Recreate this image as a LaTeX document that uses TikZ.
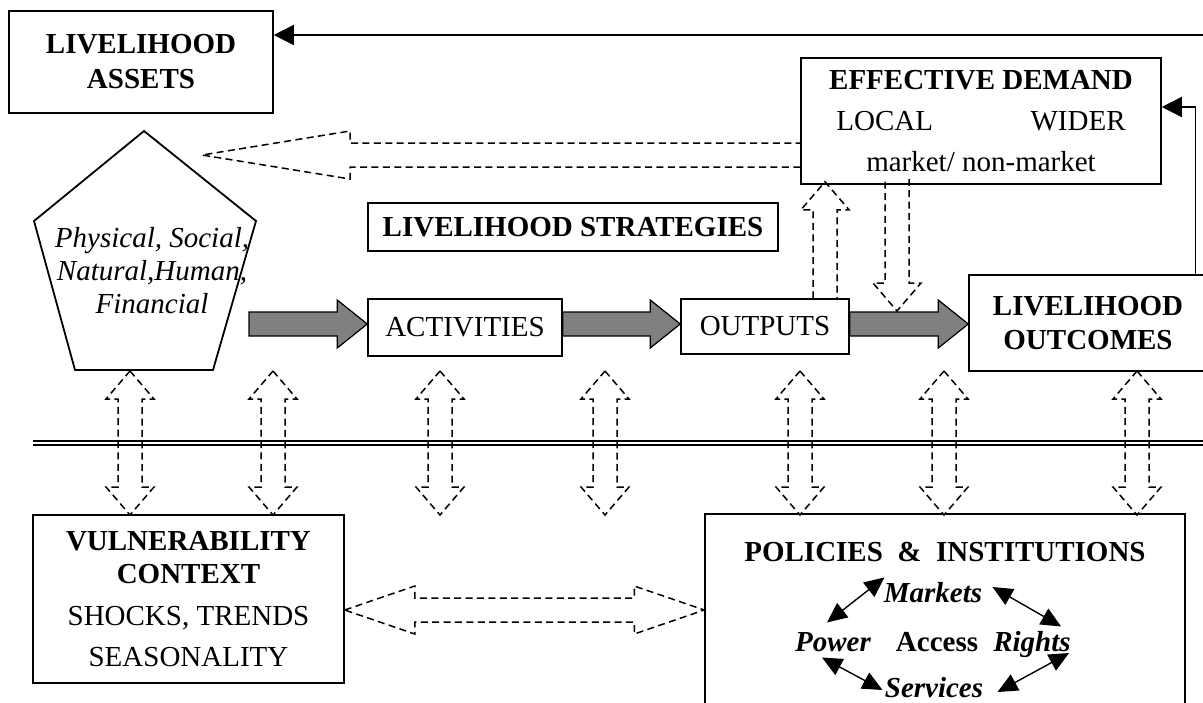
\documentclass[tikz,border=0pt]{standalone}
\usepackage{fontspec}
\setmainfont{Liberation Serif}
\usepackage{tikz}
\usetikzlibrary{calc, arrows.meta}

\newcommand{\dashsingle}[3]{%
  \coordinate (ta) at (#1);
  \coordinate (tb) at (#2);
  \coordinate (hb) at ($(tb)!#3!(ta)$);
  \draw[dashedge] ($(ta)!6pt!90:(tb)$) -- ($(hb)!6pt!90:(tb)$) -- ($(hb)!12pt!90:(tb)$) -- (tb)
    -- ($(hb)!12pt!-90:(tb)$) -- ($(hb)!6pt!-90:(tb)$) -- ($(ta)!6pt!-90:(tb)$);}
\newcommand{\dashdouble}[3]{%
  \coordinate (ta) at (#1);
  \coordinate (tb) at (#2);
  \coordinate (ha) at ($(ta)!#3!(tb)$);
  \coordinate (hb) at ($(tb)!#3!(ta)$);
  \draw[dashedge] (ta) -- ($(ha)!12pt!90:(tb)$) -- ($(ha)!6pt!90:(tb)$) -- ($(hb)!6pt!-90:(ta)$) -- ($(hb)!12pt!-90:(ta)$) -- (tb)
    -- ($(hb)!12pt!90:(ta)$) -- ($(hb)!6pt!90:(ta)$) -- ($(ha)!6pt!-90:(tb)$) -- ($(ha)!12pt!-90:(tb)$) -- cycle;}
\newcommand{\grayarrow}[2]{%
  \coordinate (ga) at (#1);
  \coordinate (gb) at (#2);
  \coordinate (gh) at ($(gb)!15pt!(ga)$);
  \draw[grayarr] ($(ga)!6pt!90:(gb)$) -- ($(gh)!6pt!90:(gb)$) -- ($(gh)!12pt!90:(gb)$) -- (gb)
    -- ($(gh)!12pt!-90:(gb)$) -- ($(gh)!6pt!-90:(gb)$) -- ($(ga)!6pt!-90:(gb)$) -- cycle;}

\begin{document}
\begin{tikzpicture}[x=0.5pt, y=-0.5pt,
  every node/.style = {font=\fontsize{14.5}{17}\selectfont, inner sep=0pt},
  lbox/.style = {draw, line width=0.75pt, align=center},
  pent/.style = {draw, line width=0.9pt},
  dashedge/.style = {line width=0.75pt, dash pattern=on 3.5pt off 2.2pt},
  grayarr/.style = {draw, line width=0.6pt, fill=gray},
  fb/.style = {line width=0.7pt, -{Triangle[length=10pt, width=10pt]}},
  pa/.style = {line width=0.7pt, {Triangle[length=10pt, width=9pt]}-{Triangle[length=10pt, width=9pt]}},
  sep/.style = {double, double distance=1.2pt, line width=0.9pt}]
  \useasboundingbox (0,0) rectangle (1203,702);
  \clip (0,0) rectangle (1203,702);

  \node[lbox, minimum width=132pt, minimum height=51pt] (assets) at (141,62)
    {\textbf{LIVELIHOOD}\\[0.5pt]\textbf{ASSETS}};
  \draw[pent] (144,131) -- (256,221) -- (213,370) -- (75,370) -- (34,221) -- cycle;
  \node[align=center, font=\fontsize{14.5}{16.5}\selectfont\itshape] (capitals) at (152,270.5)
    {Physical, Social,\\Natural,Human,\\Financial};
  \node[lbox, minimum width=180pt, minimum height=63pt] (dem) at (981,121)
    {\textbf{EFFECTIVE DEMAND}\\[3.5pt]LOCAL\hspace{48.75pt}WIDER\\[3.5pt]market/ non-market};
  \node[lbox, minimum width=205pt, minimum height=24pt] (strat) at (573,227)
    {\textbf{LIVELIHOOD STRATEGIES}};
  \node[lbox, minimum width=97pt, minimum height=28.5pt] (act) at (465,327.5) {ACTIVITIES};
  \node[lbox, minimum width=84pt, minimum height=27.5pt] (out) at (765,326.5) {OUTPUTS};
  \node[lbox, minimum width=119pt, minimum height=48pt] (outc) at (1088,323)
    {\textbf{LIVELIHOOD}\\\textbf{OUTCOMES}};
  \node[lbox, minimum width=155.5pt, minimum height=84pt, font=\fontsize{14.5}{16.5}\selectfont] (vc) at (188.5,599)
    {\textbf{VULNERABILITY}\\\textbf{CONTEXT}\\[4.5pt]SHOCKS, TRENDS\\[4pt]SEASONALITY};
  \node[lbox, minimum width=240pt, minimum height=135pt] (pi) at (945,649) {};
  \node (pititle) at (945,551.5) {\textbf{POLICIES \ \& \ INSTITUTIONS}};
  \node[font=\fontsize{14.5}{17}\selectfont\bfseries\itshape] (mkt) at (933,593) {Markets};
  \node[font=\fontsize{14.5}{17}\selectfont\bfseries\itshape] (pow) at (833,642.5) {Power};
  \node[font=\fontsize{14.5}{17}\selectfont\bfseries] (acc) at (937,642.5) {Access};
  \node[font=\fontsize{14.5}{17}\selectfont\bfseries\itshape] (rgt) at (1032,645) {Rights};
  \node[font=\fontsize{14.5}{17}\selectfont\bfseries\itshape] (srv) at (934,687.5) {Services};

  \coordinate (fbk) at (1215,35);
  \draw[fb] (fbk) -- (fbk -| assets.east);
  \draw[fb] ([xshift=-6pt]outc.north east) |- ([yshift=7pt]dem.east);

  \coordinate (g1) at (249,324);
  \grayarrow{g1}{g1 -| act.west}
  \grayarrow{act.east |- g1}{out.west |- g1}
  \grayarrow{out.east |- g1}{outc.west |- g1}

  \coordinate (ltip) at (202,155);
  \dashsingle{dem.west |- ltip}{ltip}{74pt}
  \coordinate (upA) at ([xshift=30pt]out.north);
  \coordinate (upB) at ([yshift=1.5pt]upA |- dem.south);
  \dashsingle{upA}{upB}{14pt}
  \coordinate (dnA) at ([xshift=-42pt, yshift=3pt]dem.south);
  \coordinate (dnB) at ([yshift=6.5pt]dnA |- g1);
  \dashsingle{dnA}{dnB}{14pt}

  \draw[sep] (33,443) -- (1215,443);
  \foreach \x in {130,273,440,605,800,944,1137}
    \dashdouble{\x,371}{\x,515}{14pt}
  \coordinate (hA) at ([yshift=-5.5pt]vc.east);
  \dashdouble{hA}{hA -| pi.west}{35pt}

  \draw[pa] ([shift={(-6,-10)}]pow.north) -- ([shift={(1,-5)}]mkt.north west);
  \draw[pa] ([shift={(10,-6)}]mkt.east) -- ([shift={(-10,-5)}]rgt.north east);
  \draw[pa] ([shift={(-11,5)}]pow.south) -- ([shift={(-2,2.5)}]srv.west);
  \draw[pa] ([shift={(14,4.5)}]srv.east) -- ([shift={(-2,8)}]rgt.east);
\end{tikzpicture}
\end{document}
